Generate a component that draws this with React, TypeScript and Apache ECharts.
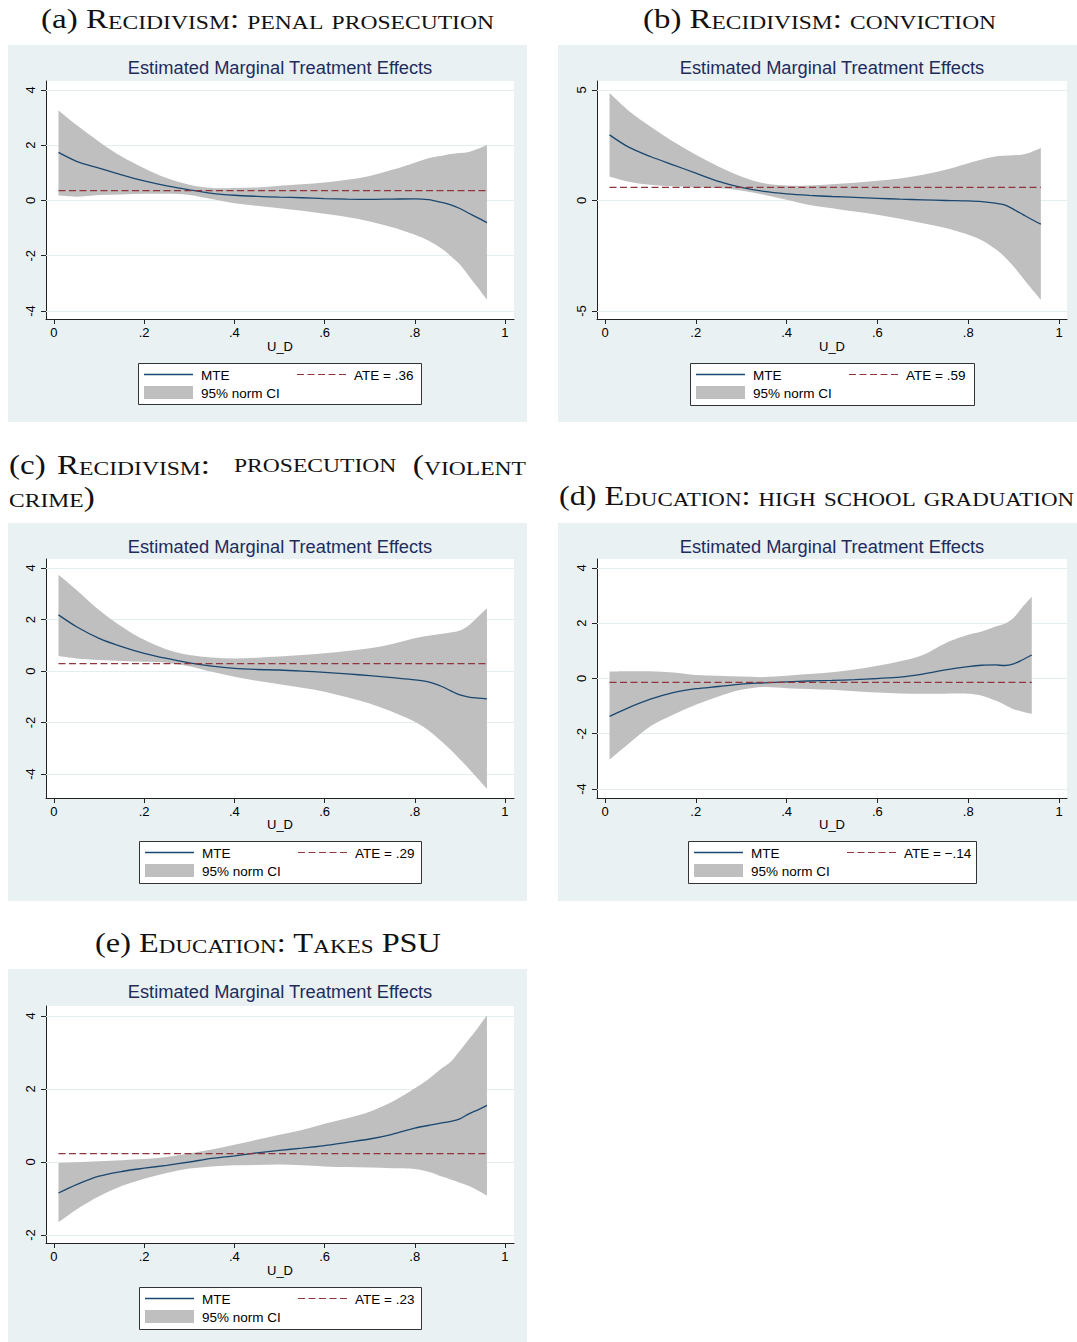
import React, { useEffect, useRef } from "react";
import * as echarts from "echarts";

// ---------------- DATA ----------------
const xGrid = [0.01, 0.05, 0.1, 0.15, 0.2, 0.25, 0.3, 0.35, 0.4, 0.45, 0.5, 0.55, 0.6, 0.65, 0.7, 0.75, 0.8, 0.83, 0.86, 0.88, 0.9, 0.92, 0.94, 0.96];
const xGridD = [0.01, 0.05, 0.1, 0.15, 0.2, 0.25, 0.3, 0.35, 0.4, 0.45, 0.5, 0.55, 0.6, 0.65, 0.7, 0.75, 0.8, 0.83, 0.86, 0.88, 0.9, 0.92, 0.94];
const xTicks = [0, 0.2, 0.4, 0.6, 0.8, 1];

// (a) Recidivism: penal prosecution
const mteA = [1.74, 1.42, 1.17, 0.93, 0.71, 0.53, 0.385, 0.26, 0.19, 0.15, 0.12, 0.1, 0.07, 0.05, 0.04, 0.05, 0.06, 0.03, -0.07, -0.16, -0.29, -0.46, -0.63, -0.8];
const hiA = [3.27, 2.73, 2.13, 1.59, 1.17, 0.81, 0.57, 0.45, 0.45, 0.47, 0.53, 0.59, 0.65, 0.75, 0.89, 1.11, 1.37, 1.53, 1.62, 1.68, 1.72, 1.76, 1.87, 2.01];
const loA = [0.18, 0.14, 0.2, 0.22, 0.24, 0.24, 0.2, 0.05, -0.1, -0.19, -0.28, -0.37, -0.48, -0.6, -0.76, -0.97, -1.24, -1.45, -1.75, -2.02, -2.32, -2.74, -3.16, -3.59];
const ateA = 0.36;
const yTicksA = [-4, -2, 0, 2, 4];

// (b) Recidivism: conviction
const mteB = [2.97, 2.44, 1.99, 1.61, 1.24, 0.86, 0.59, 0.41, 0.3, 0.23, 0.18, 0.14, 0.1, 0.06, 0.03, 0.0, -0.02, -0.05, -0.12, -0.2, -0.4, -0.63, -0.86, -1.07];
const hiB = [4.86, 4.1, 3.35, 2.67, 2.07, 1.54, 1.09, 0.78, 0.68, 0.68, 0.74, 0.8, 0.89, 1.0, 1.16, 1.39, 1.69, 1.86, 1.99, 2.02, 2.05, 2.08, 2.2, 2.37];
const loB = [1.09, 0.86, 0.71, 0.64, 0.59, 0.56, 0.45, 0.26, 0.03, -0.2, -0.35, -0.5, -0.65, -0.83, -1.03, -1.25, -1.55, -1.8, -2.2, -2.55, -2.99, -3.49, -4.0, -4.49];
const ateB = 0.59;
const yTicksB = [-5, 0, 5];

// (c) Recidivism: prosecution (violent crime)
const mteC = [2.18, 1.72, 1.27, 0.95, 0.69, 0.49, 0.32, 0.19, 0.1, 0.06, 0.04, 0.0, -0.05, -0.11, -0.18, -0.26, -0.34, -0.42, -0.6, -0.77, -0.93, -1.01, -1.05, -1.08];
const hiC = [3.74, 3.15, 2.37, 1.73, 1.21, 0.84, 0.62, 0.53, 0.49, 0.52, 0.56, 0.62, 0.69, 0.78, 0.88, 1.05, 1.27, 1.37, 1.45, 1.5, 1.57, 1.78, 2.11, 2.44];
const loC = [0.58, 0.49, 0.43, 0.39, 0.36, 0.32, 0.19, -0.03, -0.22, -0.38, -0.51, -0.65, -0.8, -1.02, -1.26, -1.58, -1.97, -2.3, -2.75, -3.07, -3.43, -3.79, -4.18, -4.57];
const ateC = 0.29;
const yTicksC = [-4, -2, 0, 2, 4];

// (d) Education: high school graduation
const mteD = [-1.37, -1.07, -0.75, -0.51, -0.37, -0.29, -0.2, -0.16, -0.12, -0.09, -0.07, -0.04, 0.0, 0.05, 0.16, 0.31, 0.43, 0.48, 0.49, 0.47, 0.53, 0.68, 0.85];
const hiD = [0.25, 0.26, 0.26, 0.22, 0.13, 0.1, 0.07, 0.05, 0.1, 0.16, 0.23, 0.33, 0.46, 0.62, 0.85, 1.28, 1.58, 1.7, 1.88, 1.98, 2.2, 2.6, 2.96];
const loD = [-2.94, -2.39, -1.73, -1.31, -0.95, -0.65, -0.41, -0.31, -0.35, -0.38, -0.41, -0.46, -0.51, -0.54, -0.55, -0.55, -0.55, -0.62, -0.8, -0.95, -1.11, -1.2, -1.28];
const ateD = -0.14;
const yTicksD = [-4, -2, 0, 2, 4];

// (e) Education: Takes PSU
const mteE = [-0.85, -0.62, -0.39, -0.26, -0.17, -0.09, 0.0, 0.1, 0.17, 0.25, 0.32, 0.38, 0.45, 0.54, 0.63, 0.76, 0.93, 1.0, 1.07, 1.11, 1.18, 1.32, 1.43, 1.55];
const hiE = [-0.03, -0.01, 0.02, 0.05, 0.08, 0.14, 0.23, 0.34, 0.47, 0.61, 0.75, 0.88, 1.05, 1.2, 1.38, 1.65, 2.02, 2.27, 2.57, 2.75, 3.05, 3.36, 3.68, 4.02];
const loE = [-1.65, -1.3, -0.94, -0.66, -0.46, -0.3, -0.18, -0.12, -0.09, -0.08, -0.07, -0.09, -0.12, -0.14, -0.15, -0.17, -0.19, -0.27, -0.4, -0.48, -0.57, -0.66, -0.78, -0.92];
const ateE = 0.23;
const yTicksE = [-2, 0, 2, 4];

const ateLabels = ["ATE = .36", "ATE = .59", "ATE = .29", "ATE = \u2212.14", "ATE = .23"];
const chartTitle = "Estimated Marginal Treatment Effects";
const xAxisName = "U_D";
const legendMTE = "MTE";
const legendCI = "95% norm CI";

// ---------------- STYLE / LAYOUT ----------------
const SANS = '"Liberation Sans", Arial, Helvetica, sans-serif';
const SERIF = '"Liberation Serif", "Times New Roman", serif';
const BG = "#eaf1f3";
const GRIDC = "#e4edf0";
const BAND = "#bfbfbf";
const NAVY = "#1a476f";
const MAROON = "#90353b";
const AXIS = "#222";
const TITLEC = "#1e2c5c";
const SM = 0.3;

type Layout = {
  bg: number[]; plot: number[]; xr: number[]; yr: number[];
  titleY: number; xnameY: number; legend: number[];
};
const LAYOUT: Layout[] = [
  { bg: [8, 45, 519, 377], plot: [46, 81, 468, 238], xr: [-0.0177, 1.02], yr: [-4.29, 4.326], titleY: 67.5, xnameY: 346, legend: [138, 363, 283, 41] },
  { bg: [558, 45, 519, 377], plot: [597, 81, 470, 238], xr: [-0.0176, 1.0176], yr: [-5.362, 5.407], titleY: 67.5, xnameY: 346, legend: [690, 363, 284, 42] },
  { bg: [8, 523, 519, 378], plot: [46, 559, 468, 239], xr: [-0.0177, 1.02], yr: [-4.93, 4.35], titleY: 546, xnameY: 824.5, legend: [139, 841, 282, 42] },
  { bg: [558, 523, 519, 378], plot: [597, 559, 470, 239], xr: [-0.0176, 1.0176], yr: [-4.326, 4.326], titleY: 546, xnameY: 824.5, legend: [688, 841, 288, 42] },
  { bg: [8, 969, 519, 373], plot: [46, 1006, 468, 237], xr: [-0.0177, 1.02], yr: [-2.219, 4.274], titleY: 991, xnameY: 1270, legend: [139, 1287, 282, 42] },
];

const PANELS = [
  { x: xGrid, mte: mteA, lo: loA, hi: hiA, ate: ateA, yTicks: yTicksA },
  { x: xGrid, mte: mteB, lo: loB, hi: hiB, ate: ateB, yTicks: yTicksB },
  { x: xGrid, mte: mteC, lo: loC, hi: hiC, ate: ateC, yTicks: yTicksC },
  { x: xGridD, mte: mteD, lo: loD, hi: hiD, ate: ateD, yTicks: yTicksD },
  { x: xGrid, mte: mteE, lo: loE, hi: hiE, ate: ateE, yTicks: yTicksE },
];

// ---- smooth confidence band shape (rendering only; points come from api.coord) ----
function curveThrough(ctx: any, pts: number[][]) {
  const t = 1 / 6;
  for (let i = 0; i < pts.length - 1; i++) {
    const p0 = pts[i - 1] || pts[i];
    const p1 = pts[i];
    const p2 = pts[i + 1];
    const p3 = pts[i + 2] || pts[i + 1];
    ctx.bezierCurveTo(
      p1[0] + (p2[0] - p0[0]) * t, p1[1] + (p2[1] - p0[1]) * t,
      p2[0] - (p3[0] - p1[0]) * t, p2[1] - (p3[1] - p1[1]) * t,
      p2[0], p2[1]
    );
  }
}
let shapeRegistered = false;
function registerBand() {
  if (shapeRegistered) return;
  shapeRegistered = true;
  const Band = (echarts.graphic as any).extendShape({
    shape: { up: [] as number[][], dn: [] as number[][] },
    buildPath(ctx: any, shape: any) {
      const up: number[][] = shape.up;
      const dn: number[][] = shape.dn;
      if (!up.length) return;
      ctx.moveTo(up[0][0], up[0][1]);
      curveThrough(ctx, up);
      const rdn = dn.slice().reverse();
      ctx.lineTo(rdn[0][0], rdn[0][1]);
      curveThrough(ctx, rdn);
      ctx.closePath();
    },
  });
  (echarts.graphic as any).registerShape("ciband", Band);
}

// captions (small caps emulation)
const CAP = 27.5;
const SC = 19.6;
const K = 0.3375;
const LH_C = 30;
const LH_S = LH_C - 2 * K * (CAP - SC);

type Tok = { t: string; s: boolean };
function toTokens(label: string, body: string): Tok[] {
  const out: Tok[] = [];
  if (label) out.push({ t: label, s: false });
  for (const ch of body) {
    const small = ch >= "a" && ch <= "z";
    const t = small ? ch.toUpperCase() : ch;
    const last = out[out.length - 1];
    if (last && last.s === small) last.t += t;
    else out.push({ t, s: small });
  }
  return out;
}
let measureCtx: CanvasRenderingContext2D | null = null;
function measure(toks: Tok[]): number {
  if (!measureCtx) measureCtx = document.createElement("canvas").getContext("2d");
  let w = 0;
  for (const tk of toks) {
    measureCtx!.font = `${tk.s ? SC : CAP}px ${SERIF}`;
    w += measureCtx!.measureText(tk.t).width;
  }
  return w;
}
function richText(toks: Tok[]): string {
  return toks.map((tk) => `{${tk.s ? "s" : "c"}|${tk.t}}`).join("");
}
const RICH = {
  c: { fontSize: CAP, fontFamily: SERIF, lineHeight: LH_C, verticalAlign: "bottom", fill: "#111" },
  s: { fontSize: SC, fontFamily: SERIF, lineHeight: LH_S, verticalAlign: "bottom", fill: "#111" },
};
function captionEl(toks: Tok[], x: number, baseline: number, align: string, scale: number) {
  return {
    type: "text",
    x,
    y: baseline - K * CAP,
    scaleX: scale,
    scaleY: 1,
    silent: true,
    style: {
      text: richText(toks),
      rich: RICH,
      align,
      textAlign: align,
      verticalAlign: "middle",
      textVerticalAlign: "middle",
      fontFamily: SERIF,
      fontSize: CAP,
      fill: "#111",
    },
  };
}

function buildCaptions(): any[] {
  const els: any[] = [];
  const tA = toTokens("(a) ", "Recidivism: penal prosecution");
  const sA = 453 / measure(tA);
  els.push(captionEl(tA, 267.5, 27, "center", sA));
  const tB = toTokens("(b) ", "Recidivism: conviction");
  els.push(captionEl(tB, 819.5, 27, "center", 353 / measure(tB)));
  const tD = toTokens("(d) ", "Education: high school graduation");
  els.push(captionEl(tD, 559, 504, "left", 515 / measure(tD)));
  const tE = toTokens("(e) ", "Education: Takes PSU");
  els.push(captionEl(tE, 268, 951, "center", 346 / measure(tE)));
  // (c) justified over two lines
  els.push(captionEl(toTokens("(c)", ""), 9, 473, "left", sA));
  els.push(captionEl(toTokens("", "Recidivism:"), 57, 473, "left", sA));
  els.push(captionEl(toTokens("", "prosecution"), 234, 473, "left", sA));
  els.push(captionEl(toTokens("", "(violent"), 526, 473, "right", sA));
  els.push(captionEl(toTokens("", "crime)"), 9, 505, "left", sA));
  return els;
}

function fmtX(v: number): string {
  if (v === 0) return "0";
  if (v === 1) return "1";
  return String(v).replace(/^0\./, ".");
}

function buildOption(): any {
  const grid: any[] = [];
  const xAxis: any[] = [];
  const yAxis: any[] = [];
  const series: any[] = [];
  const graphics: any[] = [];

  PANELS.forEach((p, i) => {
    const L = LAYOUT[i];
    const [px, py, pw, ph] = L.plot;
    grid.push({
      left: px, top: py, width: pw, height: ph,
      show: true, backgroundColor: "#ffffff", borderWidth: 0,
      containLabel: false, outerBoundsMode: "none",
    });
    xAxis.push({
      type: "value", gridIndex: i, min: L.xr[0], max: L.xr[1],
      axisLine: { show: true, onZero: false, lineStyle: { color: AXIS, width: 1 } },
      axisTick: { show: true, length: 5, customValues: xTicks, lineStyle: { color: AXIS, width: 1 } },
      axisLabel: { show: true, customValues: xTicks, formatter: fmtX, margin: 7, fontSize: 13, color: "#000", fontFamily: SANS },
      splitLine: { show: false },
    });
    yAxis.push({
      type: "value", gridIndex: i, min: L.yr[0], max: L.yr[1],
      axisLine: { show: true, onZero: false, lineStyle: { color: AXIS, width: 1 } },
      axisTick: { show: true, length: 5, customValues: p.yTicks, lineStyle: { color: AXIS, width: 1 } },
      axisLabel: { show: true, customValues: p.yTicks, rotate: 90, margin: 9, fontSize: 13, color: "#000", fontFamily: SANS, formatter: (v: number) => String(v) },
      splitLine: { show: false },
    });
    const n = p.x.length;
    // confidence band
    series.push({
      type: "custom", coordinateSystem: "cartesian2d", xAxisIndex: i, yAxisIndex: i, name: "ci" + i,
      data: p.x.map((v, j) => [v, p.lo[j], p.hi[j]]),
      encode: { x: 0, y: [1, 2] },
      clip: true, silent: true, z: 2,
      renderItem: (params: any, api: any) => {
        if (params.dataIndex !== 0) return null;
        const up = p.x.map((v, j) => api.coord([v, p.hi[j]]));
        const dn = p.x.map((v, j) => api.coord([v, p.lo[j]]));
        return { type: "ciband", shape: { up, dn }, style: { fill: BAND, stroke: null } };
      },
    });
    // MTE line (+ gridlines as markLine underneath)
    series.push({
      type: "line", xAxisIndex: i, yAxisIndex: i, name: "mte" + i,
      data: p.x.map((v, j) => [v, p.mte[j]]),
      smooth: SM, symbol: "none", silent: true,
      lineStyle: { color: NAVY, width: 1.3 }, z: 3,
      markLine: {
        silent: true, symbol: ["none", "none"], z: 1, animation: false,
        label: { show: false }, emphasis: { disabled: true },
        lineStyle: { color: GRIDC, width: 1, type: "solid" },
        data: p.yTicks.map((v) => ({ yAxis: v })),
      },
    });
    // ATE dashed
    series.push({
      type: "line", xAxisIndex: i, yAxisIndex: i, name: "ate" + i,
      data: [[p.x[0], p.ate], [p.x[n - 1], p.ate]],
      symbol: "none", silent: true,
      lineStyle: { color: MAROON, width: 1.2, type: [7, 3.5] }, z: 4,
    });

    // panel background
    graphics.push({
      type: "rect", z: -100, silent: true,
      shape: { x: L.bg[0], y: L.bg[1], width: L.bg[2], height: L.bg[3] },
      style: { fill: BG },
    });
    // title
    graphics.push({
      type: "text", x: px + pw / 2, y: L.titleY, silent: true,
      style: { text: chartTitle, fontSize: 18.3, fontFamily: SANS, fill: TITLEC, align: "center", textAlign: "center", verticalAlign: "middle", textVerticalAlign: "middle" },
    });
    // x axis name
    graphics.push({
      type: "text", x: px + pw / 2, y: L.xnameY, silent: true,
      style: { text: xAxisName, fontSize: 13, fontFamily: SANS, fill: "#000", align: "center", textAlign: "center", verticalAlign: "middle", textVerticalAlign: "middle" },
    });
    // legend
    const [lx, ly, lw, lh] = L.legend;
    graphics.push({
      type: "rect", silent: true, z: 10,
      shape: { x: lx + 0.5, y: ly + 0.5, width: lw, height: lh },
      style: { fill: "#ffffff", stroke: "#333", lineWidth: 1 },
    });
    graphics.push({
      type: "line", silent: true, z: 11,
      shape: { x1: lx + 6, y1: ly + 11.5, x2: lx + 55, y2: ly + 11.5 },
      style: { stroke: NAVY, lineWidth: 1.3 },
    });
    graphics.push({
      type: "rect", silent: true, z: 11,
      shape: { x: lx + 6, y: ly + 23, width: 49, height: 13 },
      style: { fill: BAND },
    });
    graphics.push({
      type: "line", silent: true, z: 11,
      shape: { x1: lx + 159, y1: ly + 11.5, x2: lx + 208, y2: ly + 11.5 },
      style: { stroke: MAROON, lineWidth: 1.2, lineDash: [7, 3.5] },
    });
    const txt = (t: string, x: number, y: number) => ({
      type: "text", x, y, silent: true, z: 11,
      style: { text: t, fontSize: 13.5, fontFamily: SANS, fill: "#000", align: "left", textAlign: "left", verticalAlign: "middle", textVerticalAlign: "middle" },
    });
    graphics.push(txt(legendMTE, lx + 63, ly + 12));
    graphics.push(txt(legendCI, lx + 63, ly + 30));
    graphics.push(txt(ateLabels[i], lx + 216, ly + 12));
  });

  graphics.push(...buildCaptions());

  return {
    animation: false,
    backgroundColor: "#ffffff",
    grid,
    xAxis,
    yAxis,
    series,
    graphic: { elements: graphics },
  };
}

export default function App() {
  const ref = useRef<HTMLDivElement>(null);
  useEffect(() => {
    if (!ref.current) return;
    registerBand();
    const chart = echarts.init(ref.current, undefined, { renderer: "svg", width: 1077, height: 1342 });
    chart.setOption(buildOption());
    return () => chart.dispose();
  }, []);
  return (
    <div
      ref={ref}
      style={{ position: "absolute", left: 0, top: 0, width: 1077, height: 1342 }}
    />
  );
}
